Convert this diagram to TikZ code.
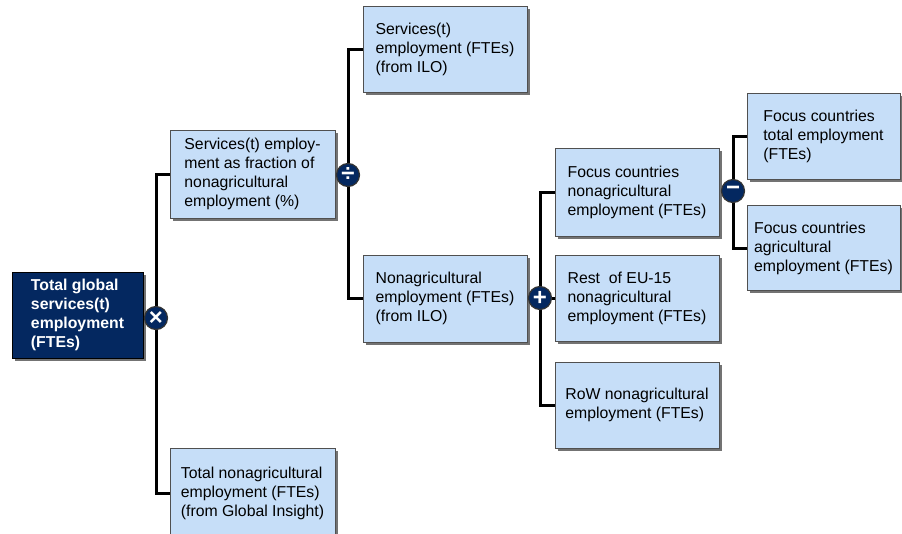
\documentclass[tikz,border=0pt]{standalone}
\usepackage{fontspec}
\setmainfont{Liberation Sans}
\usetikzlibrary{shadows,backgrounds}
\definecolor{boxblue}{RGB}{198,222,248}
\definecolor{navy}{RGB}{4,40,96}
\definecolor{boxline}{RGB}{80,80,80}
\tikzset{
  box/.style={draw=boxline, line width=0.9pt, fill=boxblue, align=left, inner sep=0pt,
    font=\fontsize{15.8}{19}\selectfont,
    drop shadow={shadow xshift=2.5pt, shadow yshift=-2.5pt, fill=black!55, opacity=1}},
  darkbox/.style={box, fill=navy, draw=black, text=white, font=\fontsize{15.8}{19}\selectfont\bfseries},
  opnode/.style={circle, fill=navy, draw=black!80, line width=1.2pt, minimum size=23pt, inner sep=0pt,
    text=white, font=\fontsize{24}{24}\selectfont\bfseries},
  conn/.style={line width=3pt, black}
}
\begin{document}
\begin{tikzpicture}[x=1pt,y=-1pt]
\useasboundingbox (0,0) rectangle (902,533);
\clip (0,0) rectangle (902,533);
% boxes
\node[darkbox, minimum width=131pt, minimum height=86pt] (tot) at (77.5,315) {Total global\\services(t)\\employment\\(FTEs)};
\node[box, minimum width=165pt, minimum height=88pt] (frac) at (252.5,174) {Services(t) employ-\\ment as fraction of\\nonagricultural\\employment (\%)};
\node[box, minimum width=165pt, minimum height=90pt] (tna) at (252.5,493) {Total nonagricultural\\employment (FTEs)\\(from Global Insight)};
\node[box, minimum width=164pt, minimum height=86pt] (sfte) at (445,49) {Services(t)\\employment (FTEs)\\(from ILO)};
\node[box, minimum width=164pt, minimum height=87pt] (nonag) at (445,298.5) {Nonagricultural\\employment (FTEs)\\(from ILO)};
\node[box, minimum width=164pt, minimum height=88pt] (fcna) at (637,192) {Focus countries\\nonagricultural\\employment (FTEs)};
\node[box, minimum width=164pt, minimum height=86pt] (eu) at (637,298) {Rest\ \ of EU-15\\nonagricultural\\employment (FTEs)};
\node[box, minimum width=164pt, minimum height=86pt] (row) at (637,405) {RoW nonagricultural\\employment (FTEs)};
\node[box, minimum width=153pt, minimum height=86pt] (fct) at (823.5,136) {Focus countries\\total employment\\(FTEs)};
\node[box, minimum width=153pt, minimum height=85pt] (fca) at (823.5,248) {Focus countries\\agricultural\\employment (FTEs)};
% operators
\node[opnode] (mul) at (156,318) {×};
\node[opnode] (dv) at (348,175) {÷};
\node[opnode] (pl) at (540,298) {+};
\node[opnode] (mi) at (733,191) {−};
% connectors
\begin{pgfonlayer}{background}
\draw[conn] (tot.east) -- (mul.center);
\draw[conn] (frac.west) -| (mul.center) |- (tna.west);
\draw[conn] (frac.east) -- (dv.center);
\draw[conn] (sfte.west) -| (dv.center) |- (nonag.west);
\draw[conn] (nonag.east) -- (pl.center);
\draw[conn] (fcna.west) -| (pl.center) |- (row.west);
\draw[conn] (pl.center) -- (eu.west);
\draw[conn] (fcna.east) -- (mi.center);
\draw[conn] (fct.west) -| (mi.center) |- (fca.west);
\end{pgfonlayer}
\end{tikzpicture}
\end{document}
